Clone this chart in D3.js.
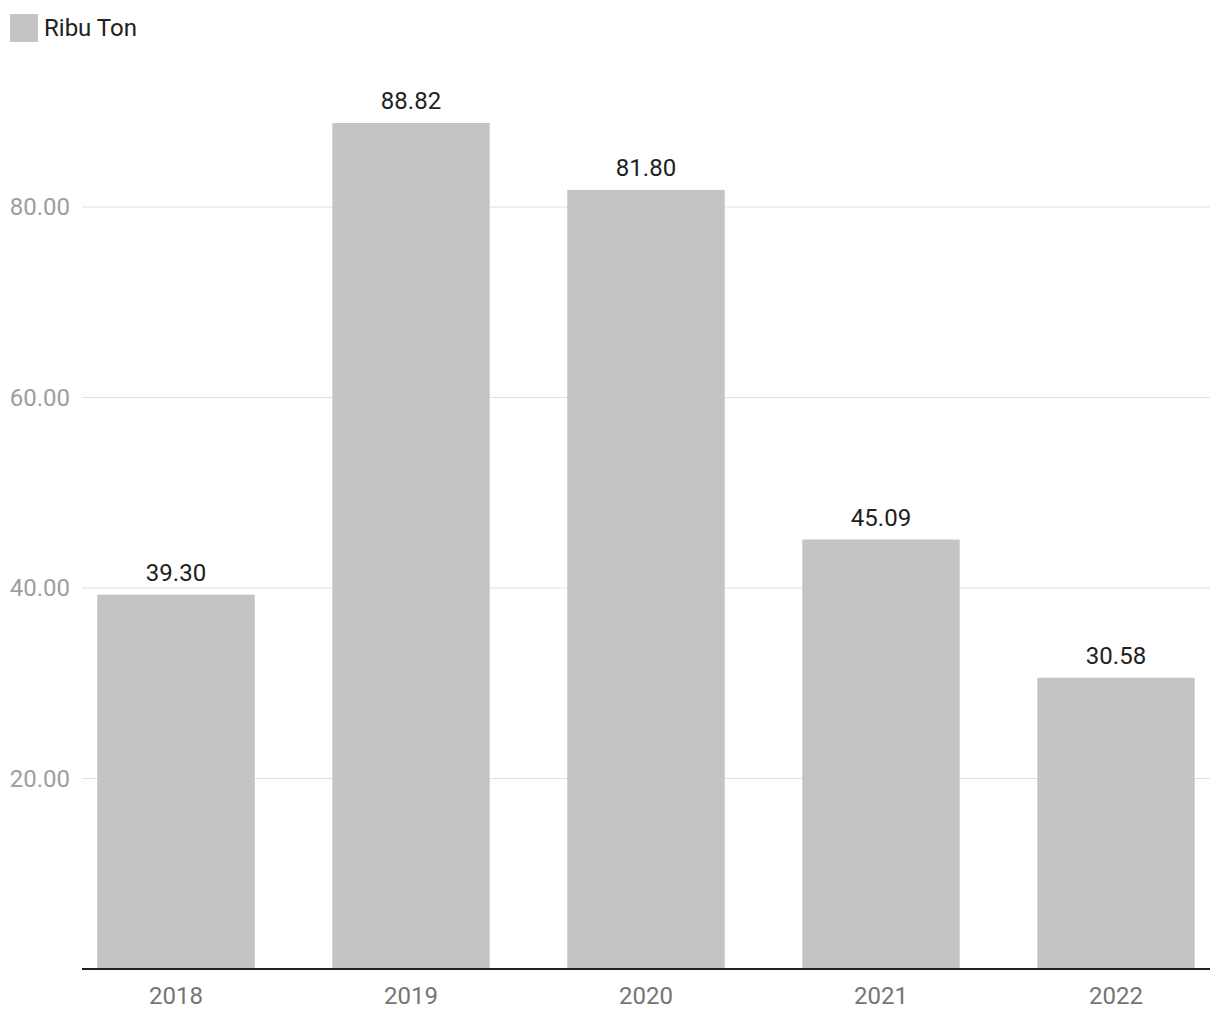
<!DOCTYPE html>
<html><head><meta charset="utf-8">
<script src="https://cdn.jsdelivr.net/npm/d3@7"></script>
<style>body{margin:0;background:#fff;font-family:Roboto,sans-serif;}</style>
</head><body><svg id="c" width="1220" height="1020"></svg>
<script>
const categories = ["2018","2019","2020","2021","2022"];
const values = [39.30, 88.82, 81.80, 45.09, 30.58];
const yTicks = [20, 40, 60, 80];
const seriesName = "Ribu Ton";

const svg = d3.select("#c");
const m = {left: 82, right: 10, top: 0, bottom: 51};
const W = 1220, H = 1020;
const x = d3.scaleBand().domain(categories).range([m.left, W - m.right]).paddingInner(0.33).paddingOuter(0.065);
const y = d3.scaleLinear().domain([0, 100]).range([969, 969 - 952.5]);

// gridlines
svg.append("g").selectAll("line").data(yTicks).join("line")
  .attr("x1", m.left).attr("x2", W - m.right)
  .attr("y1", d => y(d)).attr("y2", d => y(d))
  .attr("stroke", "#e0e0e0").attr("stroke-width", 1);

// y labels
const yAxis = svg.append("g").attr("transform", `translate(${m.left},0)`)
  .call(d3.axisLeft(y).tickValues(yTicks).tickFormat(d3.format(".2f")).tickSize(0).tickPadding(12));
yAxis.select(".domain").remove();
yAxis.selectAll("text").attr("fill", "#9e9e9e").attr("font-size", 24).attr("font-family", "Roboto");

// bars
svg.append("g").selectAll("rect").data(values).join("rect")
  .attr("x", (d, i) => x(categories[i])).attr("width", x.bandwidth())
  .attr("y", d => y(d)).attr("height", d => y(0) - y(d))
  .attr("fill", "#c4c4c4");

// value labels
svg.append("g").selectAll("text").data(values).join("text")
  .attr("x", (d, i) => x(categories[i]) + x.bandwidth() / 2)
  .attr("y", d => y(d) - 14)
  .attr("text-anchor", "middle").attr("font-size", 24).attr("fill", "#212121")
  .attr("font-family", "Roboto")
  .text(d => d3.format(".2f")(d));

// x axis
const xAxis = svg.append("g").attr("transform", `translate(0,${y(0)})`)
  .call(d3.axisBottom(x).tickSize(0).tickPadding(16));
xAxis.select(".domain").attr("stroke", "#212121").attr("stroke-width", 2)
  .attr("d", `M${m.left},0H${W - m.right}`);
xAxis.selectAll("text").attr("fill", "#757575").attr("font-size", 24).attr("font-family", "Roboto")
  .attr("y", 35).attr("dy", 0);

// legend
svg.append("rect").attr("x", 10).attr("y", 14).attr("width", 28).attr("height", 28).attr("fill", "#c4c4c4");
svg.append("text").attr("x", 44).attr("y", 36).attr("font-size", 24).attr("fill", "#212121")
  .attr("font-family", "Roboto").text(seriesName);
</script></body></html>
